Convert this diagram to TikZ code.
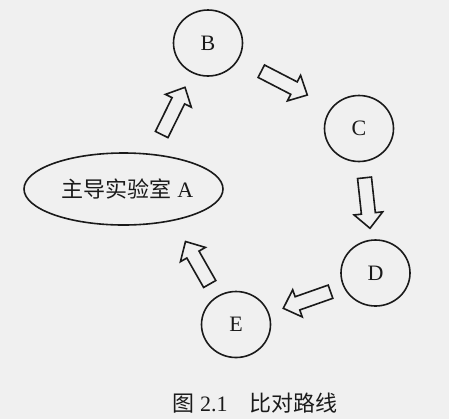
\documentclass[tikz,border=0pt]{standalone}
\usepackage{fontspec}
\setmainfont{Liberation Serif}
\newfontfamily\cjk{Noto Sans CJK SC}
\usetikzlibrary{shapes.geometric,calc}
\definecolor{bg}{HTML}{F0F0F0}
\definecolor{ink}{HTML}{1A1A1A}
\newcommand\blockarr[3]{%
  \coordinate (#3) at ($(#2)!7.5pt!(#1)$);
  \draw[barrowline] ($(#1)!3.5pt!90:(#2)$) -- ($(#3)!3.5pt!90:(#2)$) -- ($(#3)!7.2pt!90:(#2)$) -- (#2) -- ($(#3)!7.2pt!-90:(#2)$) -- ($(#3)!3.5pt!-90:(#2)$) -- ($(#1)!3.5pt!-90:(#2)$) -- cycle;}
\begin{document}
\begin{tikzpicture}[x=0.5pt,y=-0.5pt,
  font=\fontsize{11}{13}\selectfont,
  circ/.style={draw=ink, line width=0.8pt, ellipse, minimum width=34.5pt, minimum height=33pt, inner sep=0pt, text=ink},
  barrowline/.style={draw=ink, fill=bg, line width=0.8pt, line join=miter}]
\fill[bg] (0,0) rectangle (449,419);
\useasboundingbox (0,0) rectangle (449,419);
\node[circ, minimum width=99.5pt, minimum height=36pt] (A) at (123.5,189) {\hspace{4pt}{\cjk 主导实验室} A};
\node[circ] (B) at (208,43) {B};
\node[circ] (C) at (359,128.5) {C};
\node[circ] (D) at (375.5,273) {D};
\node[circ] (E) at (236,324.5) {E};
\coordinate (a1s) at (161.7,134.5); \coordinate (a1t) at (185,87.3);
\coordinate (a2s) at (261.3,71.2);  \coordinate (a2t) at (307.3,95);
\coordinate (a3s) at (364.5,177.8); \coordinate (a3t) at (370,228.3);
\coordinate (a4s) at (330.5,291.7); \coordinate (a4t) at (283.3,308.3);
\coordinate (a5s) at (209.7,284);   \coordinate (a5t) at (185.5,241.5);
\blockarr{a1s}{a1t}{a1h}
\blockarr{a2s}{a2t}{a2h}
\blockarr{a3s}{a3t}{a3h}
\blockarr{a4s}{a4t}{a4h}
\blockarr{a5s}{a5t}{a5h}
\node[text=ink] (cap) at (255,403) {{\cjk 图} 2.1{\cjk 　比对路线}};
\end{tikzpicture}
\end{document}
